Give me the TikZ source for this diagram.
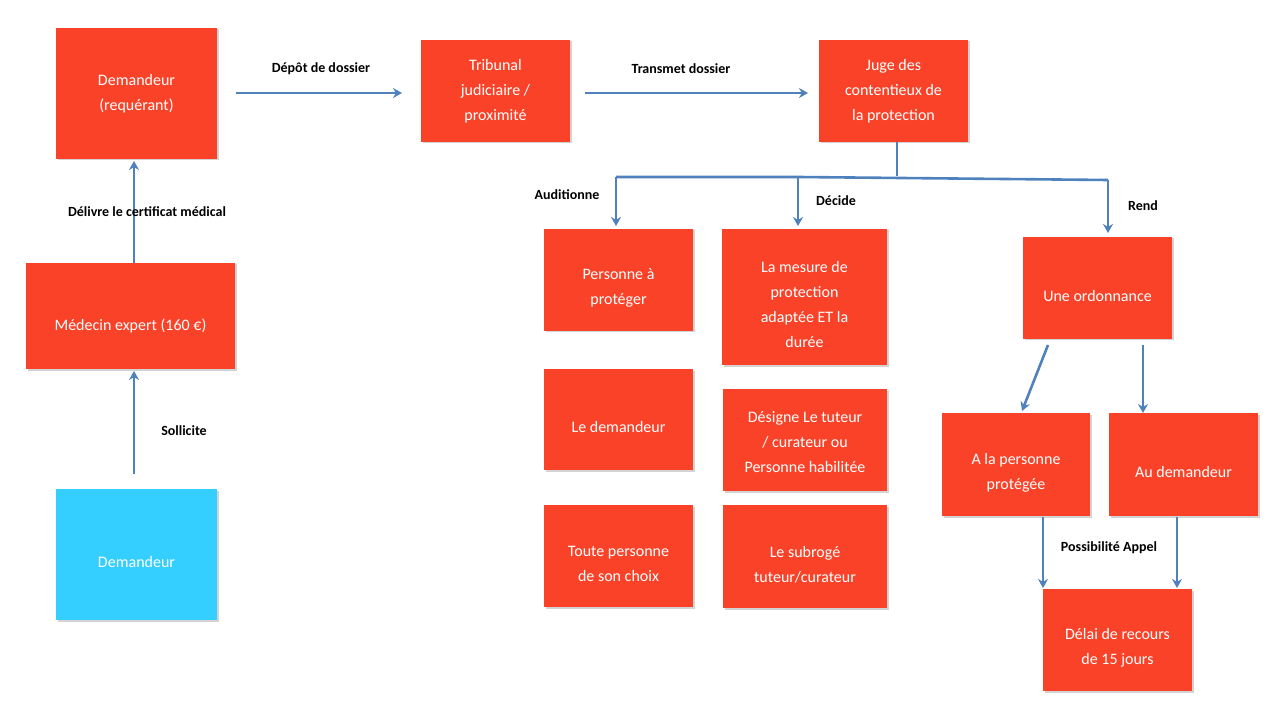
\documentclass[tikz,border=0pt]{standalone}
\usepackage{fontspec}
\setmainfont{Carlito}
\usetikzlibrary{arrows.meta,shadows}
\definecolor{rbox}{RGB}{250,66,40}
\definecolor{bbox}{RGB}{52,206,255}
\definecolor{arr}{RGB}{79,129,189}
\begin{document}
\begin{tikzpicture}[x=1pt,y=-1pt,
  box/.style={fill=rbox,draw=none,text=white,align=center,font=\fontsize{16}{25}\selectfont,drop shadow={shadow xshift=1.5pt,shadow yshift=-1.5pt,opacity=0.35}},
  ar/.style={draw=arr,line width=2.6pt,-{Stealth[length=9pt,width=10pt]}},
  ln/.style={draw=arr,line width=2.6pt},
  lab/.style={font=\bfseries\fontsize{14}{16}\selectfont,text=black}]
\useasboundingbox (0,0) rectangle (1280,719);
\def\bx#1#2#3#4#5#6{\path[box] (#2,#3) rectangle (#4,#5) node[pos=.5,box,fill=none,drop shadow={opacity=0}] (#1) {#6};}
\newcommand\mkbox[6][box]{\path[#1] (#3,#4) rectangle (#5,#6); \coordinate (#2) at ({(#3+#5)/2},{(#4+#6)/2});}
\mkbox{dem}{56}{28}{217}{159}
\node[text=white,align=center,font=\fontsize{16}{25}\selectfont] (demt) at (dem) {Demandeur\\(requérant)};
\mkbox{tri}{421}{40}{570}{142}
\node[text=white,align=center,font=\fontsize{16}{25}\selectfont] (trit) at (tri) {Tribunal\\judiciaire /\\proximité};
\mkbox{juge}{819}{40}{968}{142}
\node[text=white,align=center,font=\fontsize{16}{25}\selectfont] (juget) at (juge) {Juge des\\contentieux de\\la protection};
\mkbox{med}{26}{263}{235}{369}
\node[text=white,align=center,font=\fontsize{16}{25}\selectfont] (medt) at ([yshift=-10]med) {Médecin expert (160 €)};
\mkbox[box,fill=bbox]{dbl}{56}{489}{217}{620}
\node[text=white,align=center,font=\fontsize{16}{25}\selectfont] (dblt) at ([yshift=-8]dbl) {Demandeur};
\mkbox{pap}{544}{229}{693}{331}
\node[text=white,align=center,font=\fontsize{16}{25}\selectfont] (papt) at ([yshift=-8]pap) {Personne à\\protéger};
\mkbox{mes}{722}{229}{887}{365}
\node[text=white,align=center,font=\fontsize{16}{25}\selectfont] (mest) at ([yshift=-8]mes) {La mesure de\\protection\\adaptée ET la\\durée};
\mkbox{ord}{1023}{237}{1172}{339}
\node[text=white,align=center,font=\fontsize{16}{25}\selectfont] (ordt) at ([yshift=-8]ord) {Une ordonnance};
\mkbox{ldem}{544}{369}{693}{470}
\node[text=white,align=center,font=\fontsize{16}{25}\selectfont] (ldemt) at ([yshift=-8]ldem) {Le demandeur};
\mkbox{des}{723}{389}{887}{491}
\node[text=white,align=center,font=\fontsize{16}{25}\selectfont] (dest) at ([yshift=-2]des) {Désigne Le tuteur\\/ curateur ou\\Personne habilitée};
\mkbox{tou}{544}{505}{693}{607}
\node[text=white,align=center,font=\fontsize{16}{25}\selectfont] (tout) at ([yshift=-8]tou) {Toute personne\\de son choix};
\mkbox{sub}{723}{505}{887}{608}
\node[text=white,align=center,font=\fontsize{16}{25}\selectfont] (subt) at ([yshift=-8]sub) {Le subrogé\\tuteur/curateur};
\mkbox{alp}{942}{413}{1090}{516}
\node[text=white,align=center,font=\fontsize{16}{25}\selectfont] (alpt) at ([yshift=-8]alp) {A la personne\\protégée};
\mkbox{aud}{1109}{413}{1258}{516}
\node[text=white,align=center,font=\fontsize{16}{25}\selectfont] (audt) at ([yshift=-8]aud) {Au demandeur};
\mkbox{del}{1043}{589}{1192}{691}
\node[text=white,align=center,font=\fontsize{16}{25}\selectfont] (delt) at ([yshift=-8]del) {Délai de recours\\de 15 jours};
% connectors
\coordinate (a1) at (236,93); \coordinate (a2) at (402,93);
\draw[ar] (a1) -- (a2);
\node[lab] (l1) at (321,69) {Dépôt de dossier};
\coordinate (b1) at (585,93); \coordinate (b2) at (808,93);
\draw[ar] (b1) -- (b2);
\node[lab] (l2) at (681,69) {Transmet dossier};
\coordinate (c1) at (134,263); \coordinate (c2) at (134,161);
\draw[ar] (c1) -- (c2);
\node[lab] (l3) at (147,212) {Délivre le certificat médical};
\coordinate (d1) at (134,474); \coordinate (d2) at (134,371);
\draw[ar] (d1) -- (d2);
\node[lab] (l4) at (184,431) {Sollicite};
\coordinate (j1) at (897,142); \coordinate (j2) at (897,176);
\coordinate (hl) at (616,177); \coordinate (hm) at (798,177); \coordinate (hr) at (1108,180);
\draw[ln] (j1) -- (j2);
\draw[ln] (hl) -- (hm) -- (hr);
\coordinate (tl) at (616,226); \coordinate (tm) at (798,226); \coordinate (tr) at (1108,233);
\draw[ar] (hl) -- (tl); \draw[ar] (hm) -- (tm); \draw[ar] (hr) -- (tr);
\node[lab] (l5) at (567,195) {Auditionne};
\node[lab] (l6) at (836,201) {Décide};
\node[lab] (l7) at (1143,206) {Rend};
\coordinate (e1) at (1048,345); \coordinate (e2) at (1022,411);
\coordinate (f1) at (1143,345); \coordinate (f2) at (1143,413);
\draw[ar] (e1) -- (e2); \draw[ar] (f1) -- (f2);
\coordinate (g1) at (1043,517); \coordinate (g2) at (1043,588);
\coordinate (h1) at (1177,517); \coordinate (h2) at (1177,588);
\draw[ar] (g1) -- (g2); \draw[ar] (h1) -- (h2);
\node[lab] (l8) at (1109,548) {Possibilité Appel};
\end{tikzpicture}
\end{document}
